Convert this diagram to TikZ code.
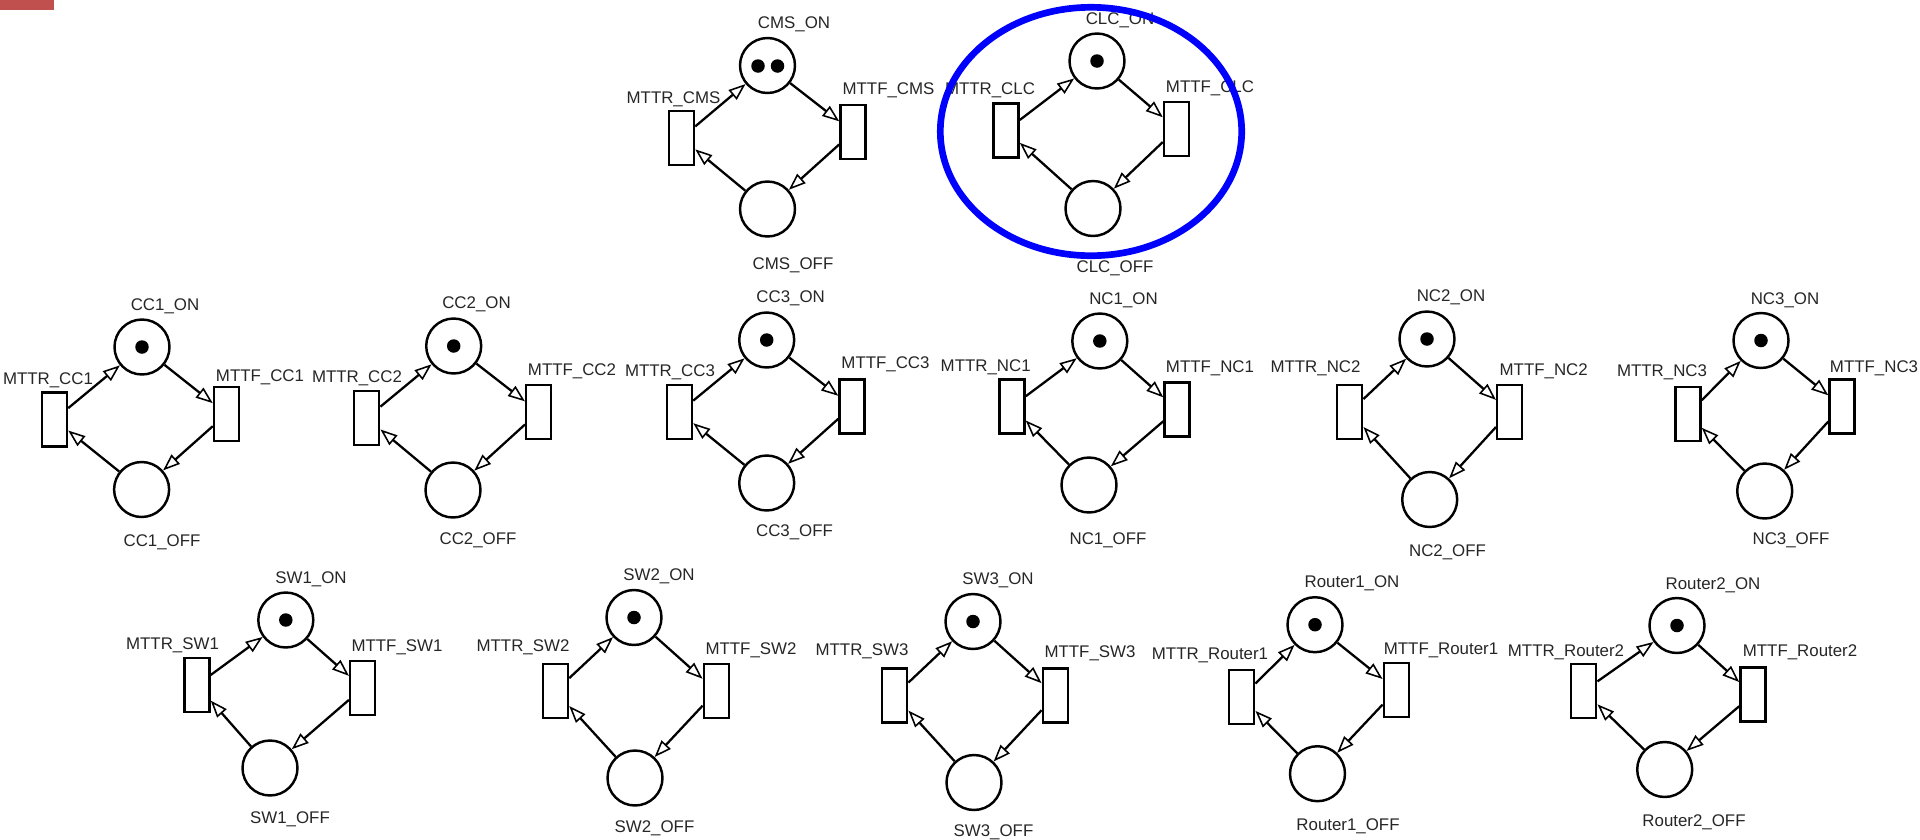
\documentclass[tikz,border=0pt]{standalone}
\usepackage{fontspec}
\setmainfont{Liberation Sans}
\usetikzlibrary{arrows.meta}
\definecolor{hdrred}{RGB}{192,80,77}
\newcommand\pnet[9]{%
  \node[place] (#1on) at (#2) {};
  \node[place] (#1off) at (#3) {};
  \node[trans] (#1r) at (#4) {};
  \node[trans] (#1f) at (#5) {};
  \node[lab] (#1onl) at (#6) {#1\_ON};
  \node[lab] (#1offl) at (#7) {#1\_OFF};
  \node[lab] (#1rl) at (#8) {MTTR\_#1};
  \node[lab] (#1fl) at (#9) {MTTF\_#1};
  \draw[arc] (#1r) -- (#1on);
  \draw[arc] (#1on) -- (#1f);
  \draw[arc] (#1f) -- (#1off);
  \draw[arc] (#1off) -- (#1r);
}
\begin{document}
\begin{tikzpicture}[x=0.02cm,y=-0.02cm,
  place/.style={circle,draw,line width=1.4pt,inner sep=0pt,minimum size=1.1cm},
  trans/.style={rectangle,draw,line width=1.4pt,inner sep=0pt,minimum width=0.5cm,minimum height=1.08cm},
  lab/.style={inner sep=0pt,anchor=base,yshift=-0.12cm,font=\fontsize{9.6}{11.5}\selectfont,text=black!85},
  arc/.style={line width=1.3pt,-{Triangle[open,length=0.34cm,width=0.25cm,line width=0.9pt]}},
  token/.style={circle,fill=black,inner sep=0pt,minimum size=0.27cm}]
\useasboundingbox (0,0) rectangle (1920,839);
\fill[hdrred] (0,0) rectangle (54,10);

\pnet{CMS}{767.5,65.5}{767.5,209}{681.5,138}{853,132}{794,22}{793,263}{673.5,97}{888.5,88}
\pnet{CLC}{1097,61}{1093,208.5}{1006,130.5}{1176.5,129}{1120,18}{1115,266}{990,88}{1210,86}
\pnet{CC1}{142,347}{141.6,489.5}{54.5,419.5}{226.5,414}{165,304}{162,540}{48,378}{260,375}
\pnet{CC2}{453.7,346}{453,490}{366.7,418}{538.7,412}{476.5,302.7}{478,538}{357,376.7}{572,369}
\pnet{CC3}{766.7,340}{766.7,483}{679.5,412}{852,406.5}{790.7,296.7}{794.5,530}{670,370}{885.5,362.7}
\pnet{NC1}{1099.8,341}{1089,485}{1012,406.5}{1177,409.5}{1123.5,298}{1108,538}{985.7,365}{1210,366}
\pnet{NC2}{1427,339}{1429.7,499.5}{1349.7,412}{1509.7,412}{1451,295.7}{1447.5,550}{1315.5,366.7}{1543.7,369}
\pnet{NC3}{1761,340.5}{1764.7,491}{1688,414}{1842,406.5}{1785,298.3}{1791,538.3}{1662,370.7}{1874,366}
\pnet{SW1}{285.8,620}{270,768}{197,685}{362.7,688}{311,577.3}{290,817.3}{172.5,643.3}{397,645}
\pnet{SW2}{634,617.5}{635,778}{555.5,691}{716.3,691}{659,574}{654.5,826.7}{523,645}{751,648.3}
\pnet{SW3}{973,621.5}{974,782.5}{894.7,695.5}{1055.3,695.5}{998,578.3}{993.5,830}{862,649.3}{1090,651.7}
\pnet{Router1}{1315,624.7}{1317.5,773.7}{1241.7,697}{1396.3,690}{1352,581.7}{1348,824}{1210,653.3}{1441,648.3}
\pnet{Router2}{1677,625.5}{1664.7,769.5}{1583.7,691}{1753,694.5}{1713,583.3}{1694,820}{1566,650}{1800,650.7}

\node[token] (CMSt1) at (758,66) {};
\node[token] (CMSt2) at (777.5,66) {};
\node[token] (CLCt) at (CLCon) {};
\node[token] (CC1t) at (CC1on) {};
\node[token] (CC2t) at (CC2on) {};
\node[token] (CC3t) at (CC3on) {};
\node[token] (NC1t) at (NC1on) {};
\node[token] (NC2t) at (NC2on) {};
\node[token] (NC3t) at (NC3on) {};
\node[token] (SW1t) at (SW1on) {};
\node[token] (SW2t) at (SW2on) {};
\node[token] (SW3t) at (SW3on) {};
\node[token] (Router1t) at (Router1on) {};
\node[token] (Router2t) at (Router2on) {};

\draw[blue,line width=3.8pt] (1091,131.5) ellipse [x radius=150.7, y radius=124.2];
\end{tikzpicture}
\end{document}
